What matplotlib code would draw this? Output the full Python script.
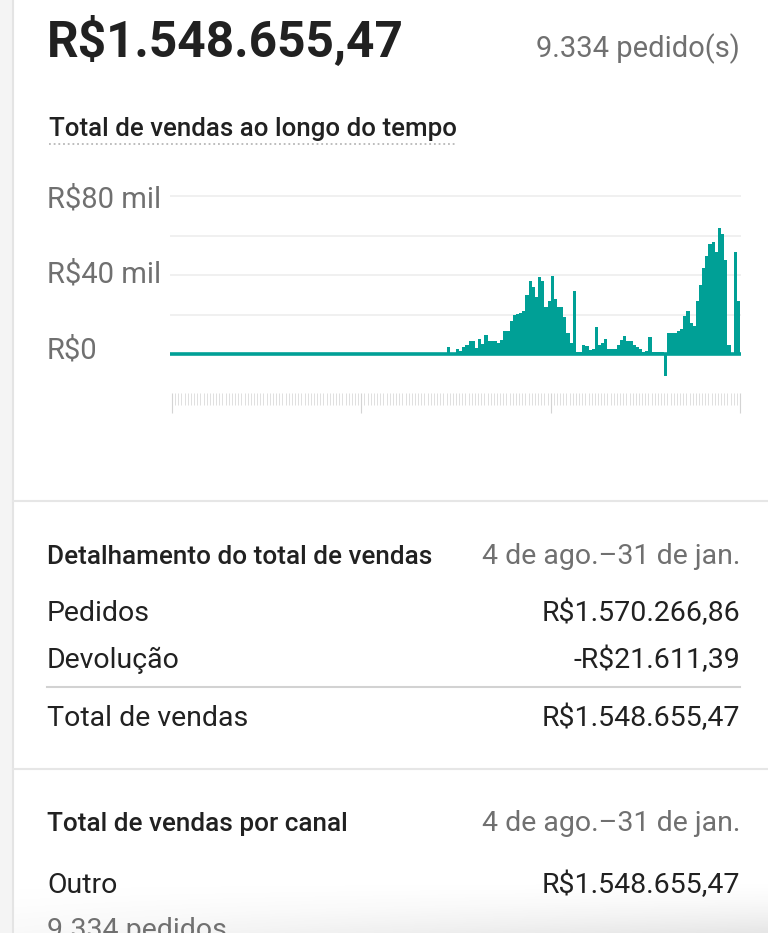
import numpy as np
import matplotlib
matplotlib.use('Agg')
import matplotlib.pyplot as plt
from matplotlib.lines import Line2D
from matplotlib.patches import Rectangle
from matplotlib import transforms

plt.rcParams['font.family'] = ['Roboto', 'DejaVu Sans']

# Daily sales, 4 de ago. to 31 de jan., in thousands of R$
vendas_mil = [
    0, 0, 0, 0, 0, 0, 0, 0, 0, 0, 0, 0, 0, 0, 0, 0, 0,
    0, 0, 0, 0, 0, 0, 0, 0, 0, 0, 0, 0, 0, 0, 0, 0, 0,
    0, 0, 0, 0, 0, 0, 0, 0, 0, 0, 0, 0, 0, 0, 0, 0, 0,
    0, 0, 0, 0, 0, 0, 0, 0, 0, 0, 0, 0, 0, 0, 0, 0, 0,
    0, 0, 0, 0, 0, 0, 0, 0, 0, 0, 0, 0, 0, 0, 0, 0, 0,
    0.5, 0.5, 0.5, 3.7, 0.7, 0.7, 2.5, 1.7, 3.7, 4.8, 6.5, 6.5, 2.8, 7.7,
    5.0, 9.8, 6.7, 6.7, 6.5, 5.8, 7.0, 11.7, 11.7, 16.7, 19.7, 20.5, 20.7,
    21.7, 29.8, 37.0, 34.0, 29.0, 38.8, 37.0, 23.7, 27.0, 39.7, 27.8, 23.7,
    23.7, 18.7, 10.7, 5.8, 32.0, 0.8, 0.8, 4.8, 4.0, 1.8, 2.7, 13.7, 4.5,
    5.7, 7.8, 2.5, 2.5, 2.5, 4.8, 7.0, 9.0, 6.7, 6.7, 4.7, 3.7, 2.7, 0.8,
    1.7, 8.8, 0.8, 0.8, 0.8, 0.8, -11.0, 10.8, 10.8, 10.8, 11.7, 12.8, 19.0,
    21.7, 15.8, 14.0, 26.7, 34.7, 43.7, 49.8, 55.7, 56.7, 51.7, 63.7, 60.8,
    47.8, 4.8, 0.7, 51.7, 27.0,
]
grade_mil = [20, 40, 60, 80]
rotulos_y = [0, 40, 80]
rotulos_y_txt = ['R$0', 'R$40 mil', 'R$80 mil']
marcos_dia = [0, 60, 120, 180]

total_vendas = 'R$1.548.655,47'
n_pedidos = '9.334 pedido(s)'
periodo = '4 de ago.\u201331 de jan.'
detalhe_rotulos = ['Pedidos', 'Devolução']
detalhe_valores = ['R$1.570.266,86', '-R$21.611,39']

TEAL = '#00a096'
DARK = '#212121'
GRAY = '#707070'
FS = 20.5   # regular row text size

W, H = 768, 933


def fx(x):
    return x / W


def fy(y):
    return 1 - y / H


fig = plt.figure(figsize=(W / 100, H / 100), dpi=100)
fig.patch.set_facecolor('white')

# soft grey shading at the bottom of the screen
sh = fig.add_axes([fx(14), 0, 1 - fx(14), fy(880)], zorder=-1)
gy, gx = np.mgrid[0:1:60j, 0:1:200j]
alpha = np.clip(gy, 0, 1) ** 1.6 * (0.25 + 0.75 * gx) * 0.22
img = np.zeros(gy.shape + (4,))
img[..., :3] = 0.55
img[..., 3] = alpha
sh.imshow(img, aspect='auto', extent=(0, 1, 1, 0), interpolation='bilinear')
sh.set_xlim(0, 1)
sh.set_ylim(1, 0)
sh.axis('off')

# left grey strip of the card
fig.patches.append(Rectangle((0, 0), fx(12), 1, transform=fig.transFigure,
                             color='#f4f4f4', zorder=0))
fig.add_artist(Line2D([fx(13), fx(13)], [0, 1], color='#e4e4e4', lw=1.5))

# header
fig.text(fx(47), fy(57), total_vendas, fontsize=35.7, fontweight='bold',
         color=DARK, ha='left', va='baseline')
fig.text(fx(740), fy(57), n_pedidos, fontsize=21, color=GRAY,
         ha='right', va='baseline')
fig.text(fx(49), fy(136), 'Total de vendas ao longo do tempo', fontsize=18.6,
         fontweight='medium', color=DARK, ha='left', va='baseline')
fig.add_artist(Line2D([fx(49), fx(457)], [fy(144), fy(144)], color='#b8b8b8',
                      lw=1.3, linestyle=(0, (1, 1.6))))

# chart
ax = fig.add_axes([fx(170), fy(380), fx(741) - fx(170), fy(180) - fy(380)])
dias = np.arange(len(vendas_mil))
ax.bar(dias, vendas_mil, width=1.0, align='edge', color=TEAL, linewidth=0, zorder=3)
ax.axhline(0, color=TEAL, lw=2.6, zorder=4)
for g in grade_mil:
    ax.axhline(g, color='#ececec', lw=1.1, zorder=1)
ax.set_xlim(0.37, len(vendas_mil) + 0.32)
ax.set_ylim(-13.16, 88.1)
for s in ['top', 'left', 'right', 'bottom']:
    ax.spines[s].set_visible(False)
ax.spines['bottom'].set_position(('outward', 9.4))
ax.set_yticks([])
ax.set_xticks([d + 1 for d in marcos_dia])
ax.set_xticks(dias + 1, minor=True)
ax.tick_params(axis='x', which='major', length=14.5, width=0.8, color='#d4d4d4',
               labelbottom=False)
ax.tick_params(axis='x', which='minor', length=8.6, width=0.6, color='#dadada')

# y labels, left aligned at the card margin (small pixel nudges per label)
lab_tr = transforms.blended_transform_factory(fig.transFigure, ax.transData)
nudge_px = [4, 1, -4]
for v, txt, dpx in zip(rotulos_y, rotulos_y_txt, nudge_px):
    tr = transforms.offset_copy(lab_tr, fig=fig, y=dpx, units='dots')
    ax.text(fx(47), v, txt, transform=tr, fontsize=21, color=GRAY,
            ha='left', va='center')

# dividers
fig.add_artist(Line2D([fx(13), 1], [fy(501), fy(501)], color='#e6e6e6', lw=1.5))
fig.add_artist(Line2D([fx(13), 1], [fy(769), fy(769)], color='#e6e6e6', lw=1.5))
fig.add_artist(Line2D([fx(47), fx(740)], [fy(687), fy(687)], color='#d2d2d2', lw=1.5))

# breakdown section
fig.text(fx(47), fy(564), 'Detalhamento do total de vendas', fontsize=18.8,
         fontweight='medium', color=DARK, ha='left', va='baseline')
fig.text(fx(740), fy(564), periodo, fontsize=FS, color=GRAY, ha='right', va='baseline')
for yy, lab, val in zip([621, 668], detalhe_rotulos, detalhe_valores):
    fig.text(fx(47), fy(yy), lab, fontsize=FS, color=DARK, ha='left', va='baseline')
    fig.text(fx(740), fy(yy), val, fontsize=FS, color=DARK, ha='right', va='baseline')
fig.text(fx(47), fy(726), 'Total de vendas', fontsize=FS, color=DARK,
         ha='left', va='baseline')
fig.text(fx(740), fy(726), total_vendas, fontsize=FS, color=DARK,
         ha='right', va='baseline')

# by channel section
fig.text(fx(47), fy(831), 'Total de vendas por canal', fontsize=18.8,
         fontweight='medium', color=DARK, ha='left', va='baseline')
fig.text(fx(740), fy(831), periodo, fontsize=FS, color=GRAY, ha='right', va='baseline')
fig.text(fx(47), fy(893), 'Outro', fontsize=FS, color=DARK, ha='left', va='baseline')
fig.text(fx(740), fy(893), total_vendas, fontsize=FS, color=DARK,
         ha='right', va='baseline')
fig.text(fx(47), fy(938), '9.334 pedidos', fontsize=FS, color=GRAY,
         ha='left', va='baseline')

fig.savefig('out.png', dpi=100)
